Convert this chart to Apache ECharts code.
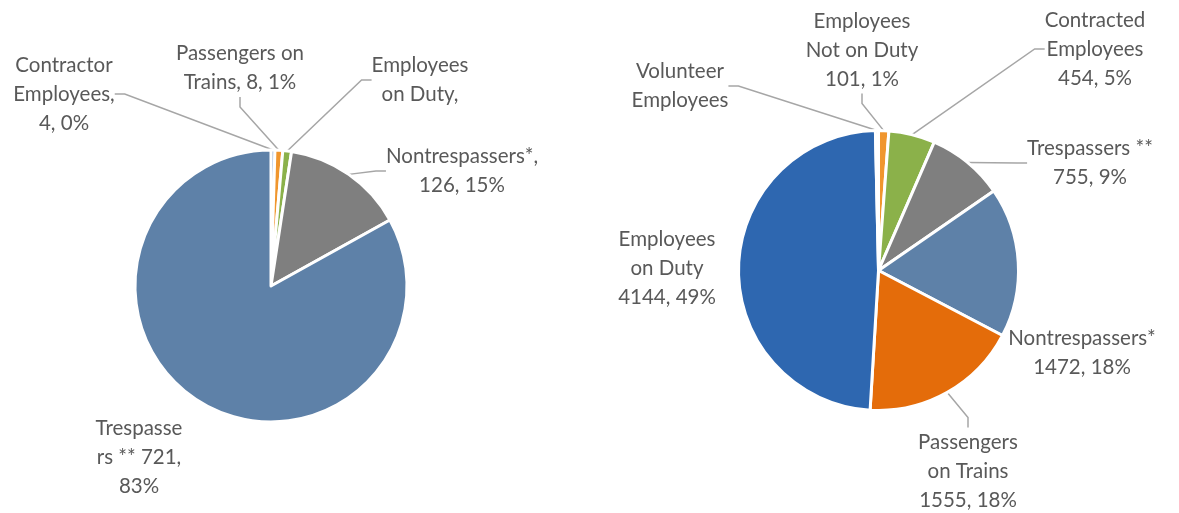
<!DOCTYPE html>
<html>
<head>
<meta charset="utf-8">
<script src="https://cdn.jsdelivr.net/npm/echarts@6/dist/echarts.min.js"></script>
<style>
html,body{margin:0;padding:0;background:#fff;}
#chart{width:1179px;height:513px;}
</style>
</head>
<body>
<div id="chart"></div>
<script>
// ---- data: left pie ----
var leftCategories = ['Contractor Employees', 'Passengers on Trains', 'Employees on Duty', 'Nontrespassers*', 'Trespassers **'];
var leftValues = [4, 8, 9, 126, 721];
var leftLabels = ['Contractor\nEmployees,\n4, 0%', 'Passengers on\nTrains, 8, 1%', 'Employees\non Duty,', 'Nontrespassers*,\n126, 15%', 'Trespasse\nrs ** 721,\n83%'];
var leftColors = ['#2E67B0', '#F0962E', '#8BB14A', '#7F7F7F', '#5E81A8'];
var leftLeader = [true, true, true, true, false];

// ---- data: right pie ----
var rightCategories = ['Employees Not on Duty', 'Contracted Employees', 'Trespassers **', 'Nontrespassers*', 'Passengers on Trains', 'Employees on Duty', 'Volunteer Employees'];
var rightValues = [101, 454, 755, 1472, 1555, 4144, 30];
var rightLabels = ['Employees\nNot on Duty\n101, 1%', 'Contracted\nEmployees\n454, 5%', 'Trespassers **\n755, 9%', 'Nontrespassers*\n1472, 18%', 'Passengers\non Trains\n1555, 18%', 'Employees\non Duty\n4144, 49%', 'Volunteer\nEmployees'];
var rightColors = ['#F0962E', '#8BB14A', '#7F7F7F', '#5E81A8', '#E46C0A', '#2E67B0', '#A5A5A5'];
var rightLeader = [true, true, true, false, true, false, true];

// ---- label layout (text block centres, px) ----
var leftLabelPos = [[64, 94], [240, 68], [420, 80], [462, 171], [139, 457]];
var rightLabelPos = [[862, 50], [1095, 49], [1090, 163], [1082, 353], [968, 471], [667, 268], [680, 86]];

function buildData(cats, vals, labels, colors, leaders) {
  return cats.map(function (c, i) {
    return {
      name: c,
      value: vals[i],
      label: { formatter: labels[i] },
      labelLine: { show: leaders[i] },
      itemStyle: { color: colors[i] }
    };
  });
}

var chart = echarts.init(document.getElementById('chart'), null, { renderer: 'canvas' });

function makeSeries(center, radius, data, pos) {
  return {
    type: 'pie',
    center: center,
    radius: radius,
    startAngle: 90,
    clockwise: true,
    silent: true,
    animation: false,
    avoidLabelOverlap: false,
    data: data,
    itemStyle: { borderColor: '#ffffff', borderWidth: 3 },
    label: {
      show: true,
      position: 'outside',
      fontFamily: 'Lato',
      fontSize: 20.5,
      lineHeight: 29,
      color: '#595959',
      align: 'center'
    },
    labelLine: {
      length: 10,
      length2: 10,
      lineStyle: { color: '#A6A6A6', width: 1.5 }
    },
    labelLayout: function (p) {
      var xy = pos[p.dataIndex];
      return { x: xy[0], y: xy[1], align: 'center', verticalAlign: 'middle' };
    },
    emphasis: { disabled: true }
  };
}

chart.setOption({
  animation: false,
  backgroundColor: '#ffffff',
  series: [
    makeSeries([271, 286], 136, buildData(leftCategories, leftValues, leftLabels, leftColors, leftLeader), leftLabelPos),
    makeSeries([878.5, 270.5], 140, buildData(rightCategories, rightValues, rightLabels, rightColors, rightLeader), rightLabelPos)
  ]
});
</script>
</body>
</html>
